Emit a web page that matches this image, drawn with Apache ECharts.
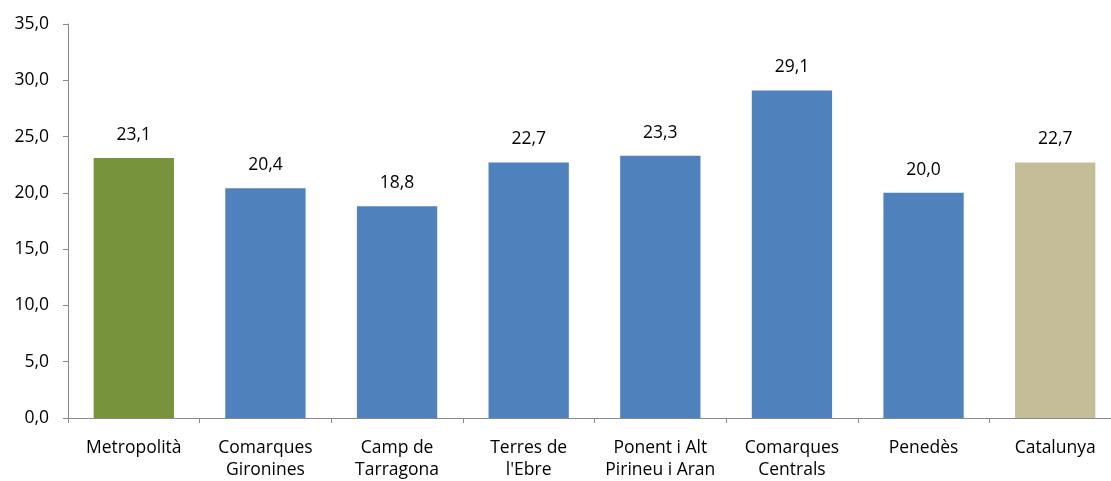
<!DOCTYPE html>
<html><head><meta charset="utf-8">
<script src="https://cdn.jsdelivr.net/npm/echarts@6/dist/echarts.min.js"></script>
<style>html,body{margin:0;padding:0;background:#fff;overflow:hidden}#c{width:1121px;height:481px}</style>
</head><body><div id="c"></div>
<script>
const categories = ["Metropolità","Comarques\nGironines","Camp de\nTarragona","Terres de\nl'Ebre","Ponent i Alt\nPirineu i Aran","Comarques\nCentrals","Penedès","Catalunya"];
const values = [23.1, 20.4, 18.8, 22.7, 23.3, 29.1, 20.0, 22.7];
const barColors = ["#77933C","#4F81BD","#4F81BD","#4F81BD","#4F81BD","#4F81BD","#4F81BD","#C4BD97"];
const font = "Open Sans";
const chart = echarts.init(document.getElementById('c'));
chart.setOption({
  animation:false,
  grid:{left:68, top:24, right:0, height:397, containLabel:false},
  xAxis:{type:'category', data:categories,
    axisLine:{lineStyle:{color:'#888'}},
    axisTick:{show:true, alignWithLabel:false, length:5, lineStyle:{color:'#888'}},
    axisLabel:{interval:0, color:'#000', fontFamily:font, fontSize:17.5, lineHeight:22, margin:19}},
  yAxis:{type:'value', min:0, max:35, interval:5,
    axisLine:{show:true, lineStyle:{color:'#888'}},
    axisTick:{show:true, length:5, lineStyle:{color:'#888'}},
    splitLine:{show:false},
    axisLabel:{color:'#000', fontFamily:font, fontSize:17.5, margin:19,
      formatter:v=>v.toFixed(1).replace('.',',')}},
  series:[{type:'bar', barWidth:'61%',
    data:values.map((v,i)=>({value:v, itemStyle:{color:barColors[i]}})),
    label:{show:true, position:'top', distance:14, color:'#000', fontFamily:font, fontSize:17.5,
      formatter:p=>p.value.toFixed(1).replace('.',',')}}]
});
</script></body></html>
